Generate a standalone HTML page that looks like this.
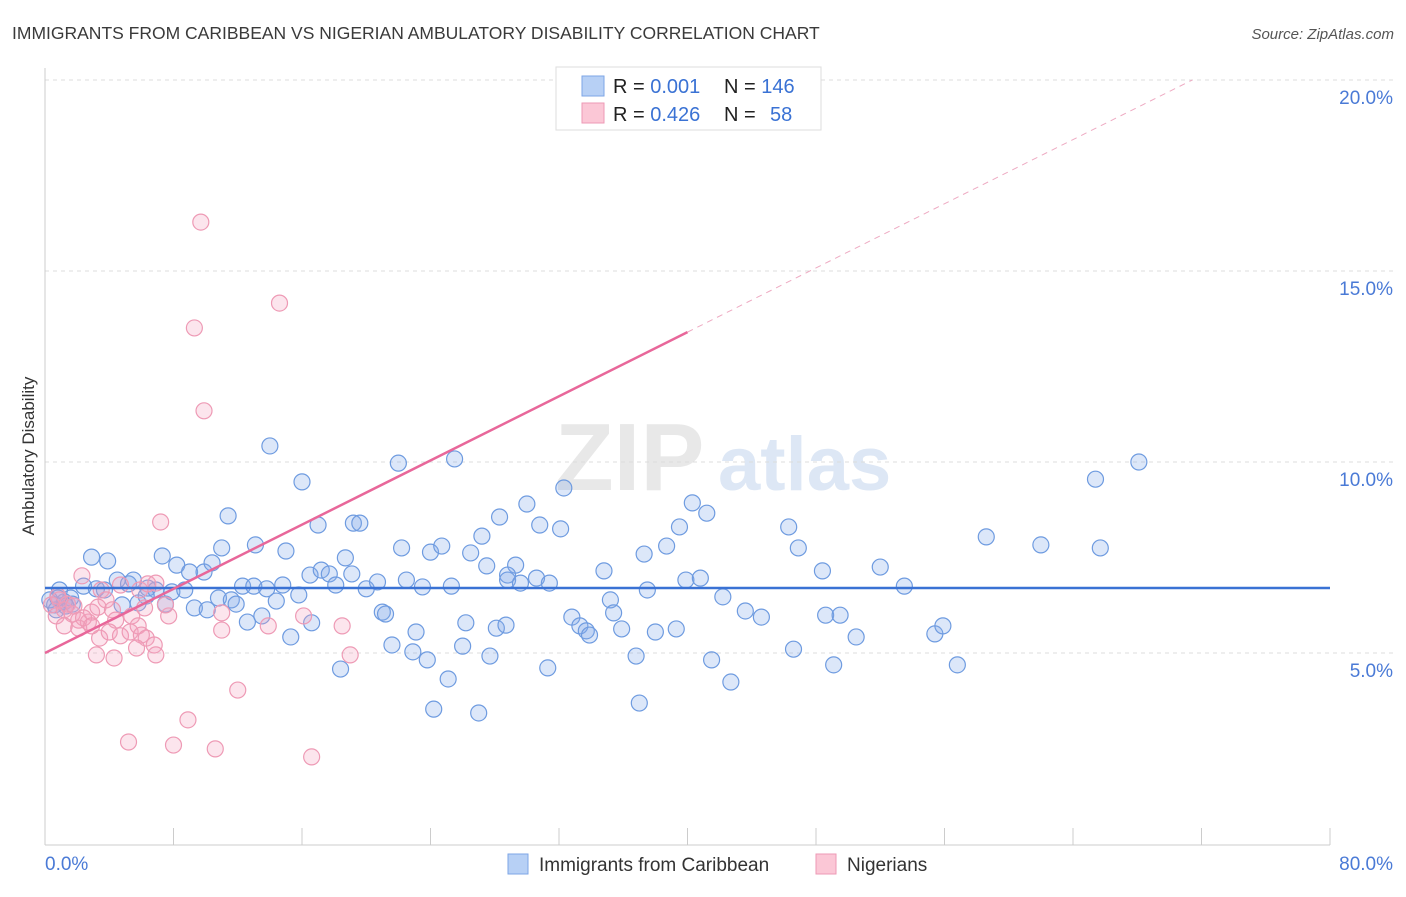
<!DOCTYPE html>
<html><head><meta charset="utf-8"><style>
body{margin:0;background:#fff;font-family:"Liberation Sans",sans-serif}
svg text{font-family:"Liberation Sans",sans-serif}
</style></head><body>
<svg id="chart" width="1406" height="892" xmlns="http://www.w3.org/2000/svg">
<text x="12" y="39" font-size="17.5" fill="#3a3a3a">IMMIGRANTS FROM CARIBBEAN VS NIGERIAN AMBULATORY DISABILITY CORRELATION CHART</text>
<text x="1394" y="39" font-size="15" fill="#555" font-style="italic" text-anchor="end">Source: ZipAtlas.com</text>
<g><text x="555" y="490" font-size="96" fill="#e8e8e8" font-family="Liberation Serif" font-weight="bold">ZIP</text><text x="718" y="490" font-size="76" fill="#dde7f5" font-weight="bold">atlas</text></g>
<g id="grid"></g><g id="axes"></g><g id="marks"></g>
<text transform="translate(34,456) rotate(-90)" font-size="17" fill="#333" text-anchor="middle">Ambulatory Disability</text>
<g>
<rect x="556" y="67" width="265" height="63" fill="#fff" stroke="#ddd"/>
<rect x="582" y="76" width="22" height="20" fill="#b7d0f5" stroke="#7ea6e6"/>
<rect x="582" y="103" width="22" height="20" fill="#fbc7d6" stroke="#ee9ab5"/>
<text x="613" y="93" font-size="20" fill="#222">R = <tspan fill="#3a72d4">0.001</tspan><tspan x="724">N = </tspan><tspan fill="#3a72d4">146</tspan></text>
<text x="613" y="121" font-size="20" fill="#222">R = <tspan fill="#3a72d4">0.426</tspan><tspan x="724">N = </tspan><tspan x="770" fill="#3a72d4">58</tspan></text>
</g>
<g>
<rect x="508" y="854" width="20" height="20" fill="#b7d0f5" stroke="#7ea6e6"/>
<text x="539" y="871" font-size="19" fill="#333">Immigrants from Caribbean</text>
<rect x="816" y="854" width="20" height="20" fill="#fbc7d6" stroke="#ee9ab5"/>
<text x="847" y="871" font-size="19" fill="#333">Nigerians</text>
</g>
</svg>
<script>
const yTicks=[5,10,15,20];
const yTickLabels=["5.0%","10.0%","15.0%","20.0%"];
const xTickCount=10;
const xEndLabels=["0.0%","80.0%"];
const blueX=[14.0,16.0,22.0,25.5,32.3,65.4,68.1,11.4,17.0,19.2,19.6,28.3,30.0,30.8,32.1,40.3,41.2,39.5,46.3,58.6,62.0,65.7,2.9,3.9,7.3,8.2,9.0,9.9,10.4,11.0,13.1,15.0,18.7,22.2,24.0,24.7,26.5,27.2,27.5,29.3,28.8,37.3,38.7,46.9,34.8,48.4,52.0,53.5,39.9,40.8,0.9,1.6,2.4,3.2,3.7,4.5,5.2,5.5,6.4,6.9,7.9,8.7,12.3,13.0,13.8,14.8,15.8,16.5,17.2,17.7,18.1,19.1,20.0,20.7,22.5,23.5,25.3,28.8,29.6,30.6,31.4,37.5,0.6,1.2,4.8,5.8,7.5,9.3,10.1,10.8,11.6,11.9,12.6,13.5,14.4,21.0,21.2,32.8,33.3,33.7,33.9,35.2,35.4,35.9,38.0,39.3,42.2,43.6,44.6,48.6,49.5,15.3,16.6,23.1,22.9,23.8,26.2,26.0,28.1,28.7,27.7,36.8,41.5,46.6,50.5,55.4,55.9,56.8,49.1,18.4,21.6,25.1,31.3,42.7,24.2,27.0,37.0,1.7,0.3,0.7,1.3,0.8,6.3];
const blueY=[10.42,9.48,9.97,10.08,9.32,9.55,10.0,8.59,8.35,8.40,8.40,8.56,8.90,8.35,8.25,8.93,8.66,8.30,8.30,8.04,7.83,7.75,7.51,7.41,7.54,7.30,7.12,7.12,7.36,7.75,7.83,7.67,7.49,7.75,7.64,7.80,7.62,8.06,7.28,7.30,7.04,7.59,7.80,7.75,7.15,7.15,7.25,6.75,6.91,6.96,6.65,6.44,6.75,6.68,6.65,6.91,6.81,6.91,6.70,6.65,6.60,6.65,6.75,6.75,6.68,6.78,6.52,7.04,7.17,7.07,6.78,7.07,6.68,6.86,6.91,6.73,6.75,6.91,6.83,6.96,6.83,6.65,6.26,6.34,6.26,6.31,6.28,6.18,6.13,6.44,6.39,6.28,5.81,5.97,6.36,6.07,6.02,5.94,5.71,5.58,5.47,6.39,6.05,5.63,5.55,5.63,6.47,6.10,5.94,5.99,5.99,5.42,5.79,5.55,5.03,4.82,5.79,5.18,5.65,5.73,4.92,4.92,4.82,5.10,5.42,5.50,5.71,4.69,4.69,4.58,5.21,4.32,4.61,4.24,3.53,3.43,3.69,6.28,6.39,6.13,6.23,6.44,6.49];
const pinkX=[9.7,14.6,9.3,9.9,7.2,2.3,3.5,3.8,4.7,5.9,6.4,6.9,0.9,0.4,0.7,1.2,1.7,2.1,2.7,2.9,3.3,4.2,4.4,5.4,6.2,7.7,7.5,11.0,13.9,16.1,18.5,19.0,1.2,2.1,3.4,4.0,4.7,5.3,5.8,6.0,6.3,6.8,5.7,3.2,4.3,6.9,11.0,12.0,8.9,5.2,8.0,10.6,16.6,1.4,0.8,1.8,2.4,2.9];
const pinkY=[16.28,14.16,13.51,11.34,8.43,7.02,6.65,6.39,6.78,6.65,6.81,6.83,6.39,6.26,5.97,6.13,6.02,5.86,5.81,6.07,6.20,6.13,5.86,5.97,6.18,5.97,6.26,6.05,5.71,5.97,5.71,4.95,5.71,5.65,5.39,5.55,5.45,5.55,5.71,5.47,5.39,5.21,5.13,4.95,4.87,4.95,5.60,4.03,3.25,2.67,2.59,2.49,2.28,6.28,6.49,6.23,5.92,5.71];
const blueFit=[6.7,0];
const pinkFit=[5.0,0.21];
const pinkSolidEnd=40;

const X0=45,X1=1330,Y0=844,PX=(X1-X0)/80,PY=38.2;
const sx=v=>X0+v*PX, sy=v=>Y0-v*PY;
const NS="http://www.w3.org/2000/svg";
function mk(tag,parent,attrs){const e=document.createElementNS(NS,tag);for(const k in attrs)e.setAttribute(k,attrs[k]);document.getElementById(parent).appendChild(e);return e;}
yTicks.forEach((t,i)=>{
 const g=mk('line','grid',{x1:X0,x2:1394,y1:sy(t),y2:sy(t),stroke:'#dcdcdc','stroke-dasharray':'4,4'});
 
 
 const l=mk('text','axes',{x:1393,y:sy(t)+24,'font-size':19,fill:'#4a7ad6','text-anchor':'end'});
 l.textContent=yTickLabels[i];
 
 
});
const ax=mk('line','axes',{x1:X0,x2:X1,y1:Y0+1,y2:Y0+1,stroke:'#ccc'});


const ay=mk('line','axes',{x1:X0,x2:X0,y1:68,y2:Y0+1,stroke:'#ccc'});


for(let i=0;i<=xTickCount;i++){
 const x=sx(i*80/xTickCount);
 const t=mk('line','axes',{x1:x,x2:x,y1:Y0-16,y2:Y0+1,stroke:'#ccc'});
 
 
}
const xl0=mk('text','axes',{x:45,y:870,'font-size':19,fill:'#4a7ad6'});xl0.textContent=xEndLabels[0];


const xl1=mk('text','axes',{x:1393,y:870,'font-size':19,fill:'#4a7ad6','text-anchor':'end'});xl1.textContent=xEndLabels[1];


blueX.forEach((x,i)=>{
 const c=mk('circle','marks',{cx:sx(x),cy:sy(blueY[i]),r:8,fill:'rgba(130,170,235,0.28)',stroke:'#6e9be0','stroke-width':1.2});
 
 
});
pinkX.forEach((x,i)=>{
 const c=mk('circle','marks',{cx:sx(x),cy:sy(pinkY[i]),r:8,fill:'rgba(245,160,190,0.28)',stroke:'#ee9ab5','stroke-width':1.2});
 
 
});
const bl=mk('line','marks',{x1:sx(0),x2:sx(80),y1:sy(blueFit[0]),y2:sy(blueFit[0]+blueFit[1]*80),stroke:'#3a72d4','stroke-width':2.5});


const pl=mk('line','marks',{x1:sx(0),x2:sx(pinkSolidEnd),y1:sy(pinkFit[0]),y2:sy(pinkFit[0]+pinkFit[1]*pinkSolidEnd),stroke:'#e8679a','stroke-width':2.5});


const xe=(20-pinkFit[0])/pinkFit[1];
const pd=mk('line','marks',{x1:sx(pinkSolidEnd),x2:sx(xe),y1:sy(pinkFit[0]+pinkFit[1]*pinkSolidEnd),y2:sy(20),stroke:'#eeaac2','stroke-width':1,'stroke-dasharray':'6,5'});


</script>
</body></html>
